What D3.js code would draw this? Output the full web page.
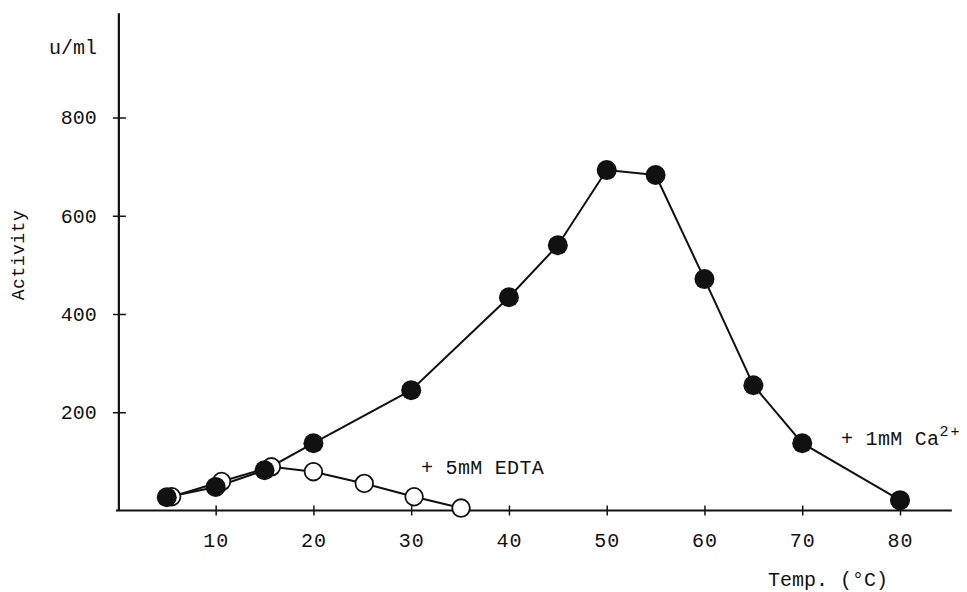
<!DOCTYPE html>
<html>
<head>
<meta charset="utf-8">
<script src="https://cdn.jsdelivr.net/npm/d3@7"></script>
<style>
  html, body { margin: 0; padding: 0; background: #fff; }
  svg text { font-family: "Liberation Mono", "DejaVu Sans Mono", monospace; fill: #111; }
</style>
</head>
<body>
<svg id="chart" width="967" height="592"></svg>
<script>
// Activity (u/ml) vs temperature, with 1 mM Ca2+ (filled) and with 5 mM EDTA (open)
const caTemps  = [5, 10, 15, 20, 30, 40, 45, 50, 55, 60, 65, 70, 80];
const caValues = [27, 48, 82, 137, 245, 434, 540, 693, 683, 471, 255, 137, 21];

const edtaTemps  = [5.5, 10.6, 15.7, 20, 25.2, 30.3, 35.1];
const edtaValues = [28, 59, 89, 79, 55, 28, 5];

const xTicks = [10, 20, 30, 40, 50, 60, 70, 80];
const yTicks = [200, 400, 600, 800];

const svg = d3.select("#chart");

const x = d3.scaleLinear().domain([0, 80]).range([117.9, 900]);
const y = d3.scaleLinear().domain([0, 800]).range([510.5, 117.5]);

const ink = "#111";

// axis lines
svg.append("line")
  .attr("x1", x(-0.2)).attr("x2", x(85.3))
  .attr("y1", y(0)).attr("y2", y(0))
  .attr("stroke", ink).attr("stroke-width", 2);
svg.append("line")
  .attr("x1", x(0.1)).attr("x2", x(0.1))
  .attr("y1", y(0)).attr("y2", y(1012))
  .attr("stroke", ink).attr("stroke-width", 2.2);

// x axis ticks and labels
const gx = svg.append("g")
  .attr("transform", `translate(0,${y(0)})`)
  .call(d3.axisBottom(x).tickValues(xTicks).tickSize(5).tickPadding(17).tickFormat(d3.format("d")));
gx.select(".domain").remove();
gx.selectAll(".tick line").attr("y1", -5).attr("stroke", ink).attr("stroke-width", 1.5);
gx.selectAll(".tick text")
  .attr("font-size", 20).attr("font-family", "Liberation Mono, monospace")
  .attr("letter-spacing", 1)
  .attr("fill", ink).attr("dy", "0.72em");

// y axis ticks and labels
const gy = svg.append("g")
  .attr("transform", `translate(${x(0.1)},0)`)
  .call(d3.axisLeft(y).tickValues(yTicks).tickSize(6).tickPadding(16).tickFormat(d3.format("d")));
gy.select(".domain").remove();
gy.selectAll(".tick line").attr("x1", 7).attr("stroke", ink).attr("stroke-width", 1.5);
gy.selectAll(".tick text")
  .attr("font-size", 20).attr("font-family", "Liberation Mono, monospace")
  .attr("fill", ink).attr("dy", "0.32em");

// series lines
const caData = caTemps.map((t, i) => [t, caValues[i]]);
const edtaData = edtaTemps.map((t, i) => [t, edtaValues[i]]);
const line = d3.line().x(d => x(d[0])).y(d => y(d[1]));

svg.append("path").datum(edtaData)
  .attr("d", line).attr("fill", "none").attr("stroke", ink).attr("stroke-width", 2);
svg.append("path").datum(caData)
  .attr("d", line).attr("fill", "none").attr("stroke", ink).attr("stroke-width", 2);

// EDTA markers (open)
svg.append("g").selectAll("circle").data(edtaData).join("circle")
  .attr("cx", d => x(d[0])).attr("cy", d => y(d[1])).attr("r", 8.8)
  .attr("fill", "#fff").attr("stroke", ink).attr("stroke-width", 1.8);

// Ca markers (filled)
svg.append("g").selectAll("circle").data(caData).join("circle")
  .attr("cx", d => x(d[0])).attr("cy", d => y(d[1])).attr("r", 10)
  .attr("fill", ink);

// titles and annotations
svg.append("text").attr("x", 49).attr("y", 54).attr("font-size", 20).text("u/ml");

svg.append("text")
  .attr("transform", "translate(24,255) rotate(-90)")
  .attr("text-anchor", "middle").attr("font-size", 18).attr("letter-spacing", 0.5)
  .text("Activity");

svg.append("text").attr("x", 768).attr("y", 586).attr("font-size", 20).text("Temp. (°C)");

svg.append("text").attr("x", 421).attr("y", 474).attr("font-size", 20).attr("letter-spacing", 0.3)
  .attr("xml:space", "preserve")
  .text("+ 5mM EDTA");

const caLabel = svg.append("text").attr("x", 841).attr("y", 445).attr("font-size", 20).attr("letter-spacing", 0.3);
caLabel.append("tspan").text("+ 1mM Ca");
caLabel.append("tspan").attr("font-size", 15).attr("dy", -9).attr("letter-spacing", 2).text("2+");
</script>
</body>
</html>
